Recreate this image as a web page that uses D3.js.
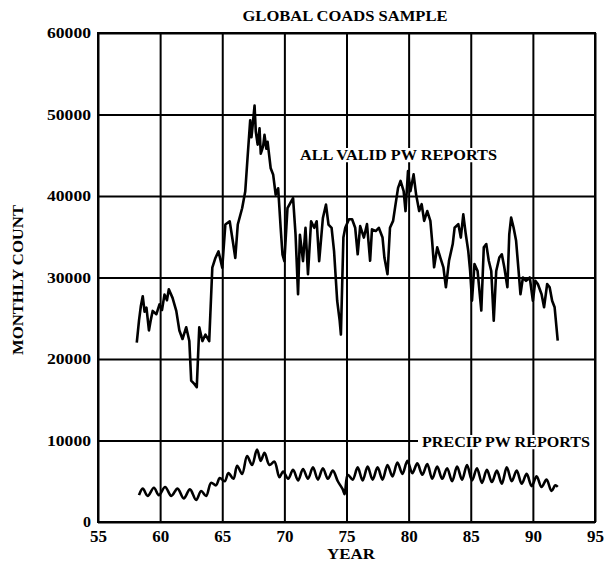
<!DOCTYPE html>
<html>
<head>
<meta charset="utf-8">
<script src="https://cdn.jsdelivr.net/npm/d3@7"></script>
<style>
  html, body { margin: 0; padding: 0; background: #fff; }
  svg { display: block; }
  text { font-family: "Liberation Serif", "Times New Roman", serif; font-weight: bold; fill: #000; }
</style>
</head>
<body>
<svg id="chart" width="604" height="562"></svg>
<script>
// ---- Data ----
const xTicks = [55, 60, 65, 70, 75, 80, 85, 90, 95];
const yTicks = [0, 10000, 20000, 30000, 40000, 50000, 60000];

const allYears = [58.12, 58.3, 58.45, 58.6, 58.75, 58.9, 59.1, 59.25, 59.4, 59.7, 59.95, 60.15, 60.35, 60.55, 60.7, 61.0, 61.3, 61.55, 61.8, 62.1, 62.35, 62.5, 62.75, 62.95, 63.15, 63.4, 63.65, 63.95, 64.2, 64.45, 64.7, 65.0, 65.25, 65.6, 65.85, 66.05, 66.25, 66.6, 66.85, 67.05, 67.25, 67.35, 67.45, 67.6, 67.7, 67.85, 68.0, 68.1, 68.2, 68.3, 68.4, 68.55, 68.65, 68.9, 69.1, 69.3, 69.5, 69.7, 69.85, 70.0, 70.25, 70.55, 70.7, 70.9, 71.1, 71.25, 71.5, 71.7, 71.9, 72.15, 72.4, 72.6, 72.8, 73.1, 73.35, 73.55, 73.8, 74.0, 74.25, 74.45, 74.55, 74.65, 74.75, 74.9, 75.2, 75.45, 75.7, 75.9, 76.1, 76.4, 76.65, 76.9, 77.05, 77.35, 77.6, 77.9, 78.05, 78.3, 78.5, 78.75, 78.95, 79.15, 79.35, 79.6, 79.75, 79.95, 80.15, 80.4, 80.6, 80.85, 81.05, 81.25, 81.5, 81.75, 81.9, 82.05, 82.3, 82.55, 82.8, 83.0, 83.25, 83.55, 83.7, 84.0, 84.2, 84.4, 84.6, 84.8, 84.95, 85.1, 85.3, 85.55, 85.85, 86.05, 86.25, 86.45, 86.65, 86.85, 87.05, 87.3, 87.5, 87.7, 87.95, 88.1, 88.25, 88.45, 88.65, 88.85, 89.0, 89.2, 89.45, 89.75, 90.0, 90.2, 90.4, 90.7, 90.9, 91.15, 91.35, 91.55, 91.75, 92.0];
const allValues = [22000, 24700, 26500, 27700, 25800, 26300, 23500, 24800, 25900, 25500, 26700, 26000, 27900, 27200, 28550, 27500, 25900, 23500, 22450, 23900, 22200, 17350, 16950, 16550, 23900, 22200, 23000, 22200, 31200, 32400, 33200, 31200, 36500, 36900, 34450, 32400, 36500, 38500, 40550, 45000, 49300, 47200, 48700, 51100, 47900, 46300, 48300, 45200, 45650, 46200, 47500, 45800, 46650, 43400, 42600, 40150, 40950, 36100, 32800, 32000, 38500, 39350, 39750, 35250, 27950, 35250, 32000, 36100, 30400, 36900, 36100, 36900, 32000, 37300, 38950, 36500, 36100, 33200, 27150, 24700, 23000, 29000, 34900, 36100, 37150, 37150, 36100, 32850, 36300, 34900, 36550, 32050, 35900, 35700, 36100, 34900, 32450, 30400, 36100, 36950, 39000, 41000, 41850, 40600, 38150, 43050, 40600, 42650, 40200, 38150, 39000, 36950, 38150, 36950, 34300, 31250, 33700, 32450, 31250, 28800, 32050, 34100, 36100, 36550, 34900, 37750, 35300, 33250, 30800, 27150, 31650, 30800, 25950, 33700, 34100, 32050, 30800, 24700, 30800, 32450, 32850, 31250, 28800, 35300, 37350, 36100, 34500, 30800, 27950, 30000, 29600, 30000, 27150, 29600, 29200, 27950, 26350, 29200, 28800, 27150, 26350, 22250];

const precipYears = [58.3, 58.6, 59.0, 59.5, 59.9, 60.4, 60.9, 61.4, 61.9, 62.4, 62.9, 63.3, 63.7, 64.1, 64.5, 64.8, 65.2, 65.5, 65.9, 66.2, 66.6, 67.0, 67.4, 67.8, 68.1, 68.4, 68.8, 69.2, 69.6, 69.9, 70.3, 70.7, 71.1, 71.5, 71.9, 72.3, 72.7, 73.1, 73.5, 73.9, 74.3, 74.7, 74.85, 75.1, 75.5, 75.9, 76.3, 76.7, 77.1, 77.5, 77.9, 78.3, 78.7, 79.1, 79.5, 79.9, 80.3, 80.7, 81.1, 81.5, 81.9, 82.3, 82.7, 83.1, 83.5, 83.9, 84.3, 84.7, 85.1, 85.5, 85.9, 86.3, 86.7, 87.1, 87.5, 87.9, 88.3, 88.7, 89.1, 89.5, 89.9, 90.3, 90.7, 91.1, 91.5, 91.8, 92.0];
const precipValues = [3300, 4100, 3200, 4200, 3300, 4300, 3200, 4100, 2900, 4000, 2700, 3800, 3200, 4800, 4500, 5400, 5000, 6000, 5300, 6900, 5900, 8100, 7000, 8900, 7500, 8500, 7000, 7400, 5500, 6200, 5300, 6400, 5100, 6500, 5300, 6700, 5200, 6600, 5300, 6300, 5000, 4000, 3400, 5800, 5200, 6700, 5100, 6800, 5200, 6700, 5200, 7000, 5600, 7300, 5900, 7500, 6000, 7200, 5800, 7100, 5300, 6800, 5300, 6600, 5000, 6800, 5200, 7000, 5100, 6600, 4800, 6400, 4900, 6300, 4700, 6700, 5000, 6300, 4700, 5900, 4400, 5600, 4300, 5200, 3800, 4500, 4300];

// ---- Layout ----
const mLeft = 98, mRight = 595, mTop = 33, mBottom = 522;
const svg = d3.select("#chart");

const x = d3.scaleLinear().domain([55, 95]).range([mLeft, mRight]);
const y = d3.scaleLinear().domain([0, 60000]).range([mBottom, mTop]);

// Grid lines
svg.append("g")
  .attr("transform", `translate(0,${mBottom})`)
  .call(d3.axisBottom(x).tickValues(xTicks).tickSize(-(mBottom - mTop)).tickFormat(""))
  .call(g => g.select(".domain").remove())
  .call(g => g.selectAll("line").attr("stroke", "#000").attr("stroke-width", 2));

svg.append("g")
  .attr("transform", `translate(${mLeft},0)`)
  .call(d3.axisLeft(y).tickValues(yTicks).tickSize(-(mRight - mLeft)).tickFormat(""))
  .call(g => g.select(".domain").remove())
  .call(g => g.selectAll("line").attr("stroke", "#000").attr("stroke-width", 2));

// Tick labels
svg.append("g")
  .attr("transform", `translate(0,${mBottom})`)
  .call(d3.axisBottom(x).tickValues(xTicks).tickSize(0).tickPadding(9).tickFormat(d3.format("d")))
  .call(g => g.select(".domain").remove())
  .call(g => g.selectAll("text")
    .attr("font-size", 16).attr("font-family", "Liberation Serif").attr("font-weight", "bold")
    .attr("textLength", 17).attr("lengthAdjust", "spacingAndGlyphs"));

svg.append("g")
  .attr("transform", `translate(${mLeft},0)`)
  .call(d3.axisLeft(y).tickValues(yTicks).tickSize(0).tickPadding(7).tickFormat(d3.format("d")))
  .call(g => g.select(".domain").remove())
  .call(g => g.selectAll("text")
    .attr("font-size", 15).attr("font-family", "Liberation Serif").attr("font-weight", "bold")
    .attr("textLength", d => d === 0 ? 8 : 44).attr("lengthAdjust", "spacingAndGlyphs"));

// Series lines
const line = d3.line().x(d => x(d[0])).y(d => y(d[1]));
svg.append("path")
  .datum(allYears.map((t, i) => [t, allValues[i]]))
  .attr("d", line).attr("fill", "none").attr("stroke", "#000")
  .attr("stroke-width", 2.6).attr("stroke-linejoin", "round");

const smooth = d3.line().x(d => x(d[0])).y(d => y(d[1])).curve(d3.curveCatmullRom.alpha(0.5));
svg.append("path")
  .datum(precipYears.map((t, i) => [t, precipValues[i]]))
  .attr("d", smooth).attr("fill", "none").attr("stroke", "#000")
  .attr("stroke-width", 2.6).attr("stroke-linejoin", "round");

// Series labels with white backgrounds
function label(text, x0, base, width, size, bgRight) {
  svg.append("rect").attr("x", x0 - 4).attr("y", base - size * 0.8)
    .attr("width", (bgRight || x0 + width + 2) - (x0 - 4)).attr("height", size * 0.95).attr("fill", "#fff");
  svg.append("text").attr("x", x0).attr("y", base).attr("font-size", size)
    .attr("textLength", width).attr("lengthAdjust", "spacingAndGlyphs").text(text);
}
label("ALL VALID PW REPORTS", 300, 160, 197, 15);
label("PRECIP PW REPORTS", 422, 447, 168, 15, mRight - 1);

// Border
svg.append("rect")
  .attr("x", mLeft).attr("y", mTop)
  .attr("width", mRight - mLeft).attr("height", mBottom - mTop)
  .attr("fill", "none").attr("stroke", "#000").attr("stroke-width", 2);

// Title and axis titles
svg.append("text").attr("x", 345).attr("y", 21).attr("text-anchor", "middle")
  .attr("font-size", 15).attr("textLength", 205).attr("lengthAdjust", "spacingAndGlyphs")
  .text("GLOBAL COADS SAMPLE");

svg.append("text").attr("x", 351).attr("y", 559).attr("text-anchor", "middle")
  .attr("font-size", 15).attr("textLength", 48).attr("lengthAdjust", "spacingAndGlyphs")
  .text("YEAR");

svg.append("text").attr("transform", "translate(23,280) rotate(-90)").attr("text-anchor", "middle")
  .attr("font-size", 14).attr("textLength", 150).attr("lengthAdjust", "spacingAndGlyphs")
  .text("MONTHLY COUNT");
</script>
</body>
</html>
